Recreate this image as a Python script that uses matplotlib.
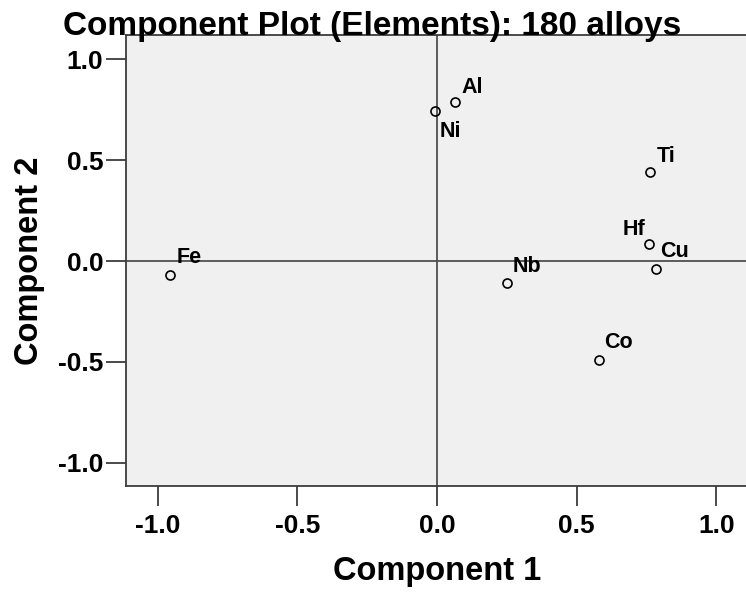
import matplotlib
matplotlib.use("Agg")
import matplotlib.pyplot as plt

# component loadings
elements = ["Ni", "Al", "Ti", "Hf", "Cu", "Nb", "Co", "Fe"]
comp1 = [-0.007, 0.066, 0.762, 0.759, 0.782, 0.249, 0.580, -0.956]
comp2 = [0.741, 0.787, 0.441, 0.084, -0.041, -0.109, -0.492, -0.069]

ticks = [-1.0, -0.5, 0.0, 0.5, 1.0]
tick_labels = ["-1.0", "-0.5", "0.0", "0.5", "1.0"]

# label placement (pixel offsets from the marker, horizontal alignment)
label_pos = {
    "Ni": (5, -26, "left"),
    "Al": (6, 9, "left"),
    "Ti": (7, 10, "left"),
    "Hf": (-4, 9, "right"),
    "Cu": (5, 12, "left"),
    "Nb": (6, 11, "left"),
    "Co": (5, 12, "left"),
    "Fe": (7, 12, "left"),
}

plt.rcParams["font.family"] = ["Liberation Sans", "DejaVu Sans"]
plt.rcParams["font.weight"] = "bold"

W, H = 746, 596
fig = plt.figure(figsize=(W / 100, H / 100), dpi=100)
fig.patch.set_facecolor("white")

left, right, top, bottom = 126, 748, 35, 486
ax = fig.add_axes([left / W, (H - bottom) / H, (right - left) / W, (bottom - top) / H])
ax.set_facecolor("#f0f0f0")

edge = "#3c3c3c"
ax.axhline(0, color="#505050", lw=1.3, zorder=1)
ax.axvline(0, color="#505050", lw=1.3, zorder=1)

ax.plot(comp1, comp2, "o", ms=6.5, mfc="none", mec="black", mew=1.2, zorder=3)

for name, x, y in zip(elements, comp1, comp2):
    dx, dy, ha = label_pos[name]
    ax.annotate(name, (x, y), xytext=(dx, dy), textcoords="offset pixels",
                ha=ha, va="baseline", fontsize=15.5, fontweight="bold", color="black")

ax.set_xlim(-1.113, 1.113)
ax.set_ylim(-1.114, 1.119)
ax.set_xticks(ticks)
ax.set_xticklabels(tick_labels)
ax.set_yticks(ticks)
ax.set_yticklabels(tick_labels)

for s in ax.spines.values():
    s.set_color(edge)
    s.set_linewidth(1.3)

ax.tick_params(direction="out", length=14.4, width=1.3, color=edge,
               labelsize=19, pad=2, labelcolor="black")
ax.tick_params(axis="x", pad=6)

ax.set_xlabel("Component 1", fontsize=23.5, fontweight="bold", labelpad=13)
ax.set_ylabel("Component 2", fontsize=23.5, fontweight="bold", labelpad=9)

fig.text(372 / W, 1 - 35 / H, "Component Plot (Elements): 180 alloys",
         ha="center", va="baseline", fontsize=24, fontweight="bold")

fig.savefig("out.png", dpi=100)
